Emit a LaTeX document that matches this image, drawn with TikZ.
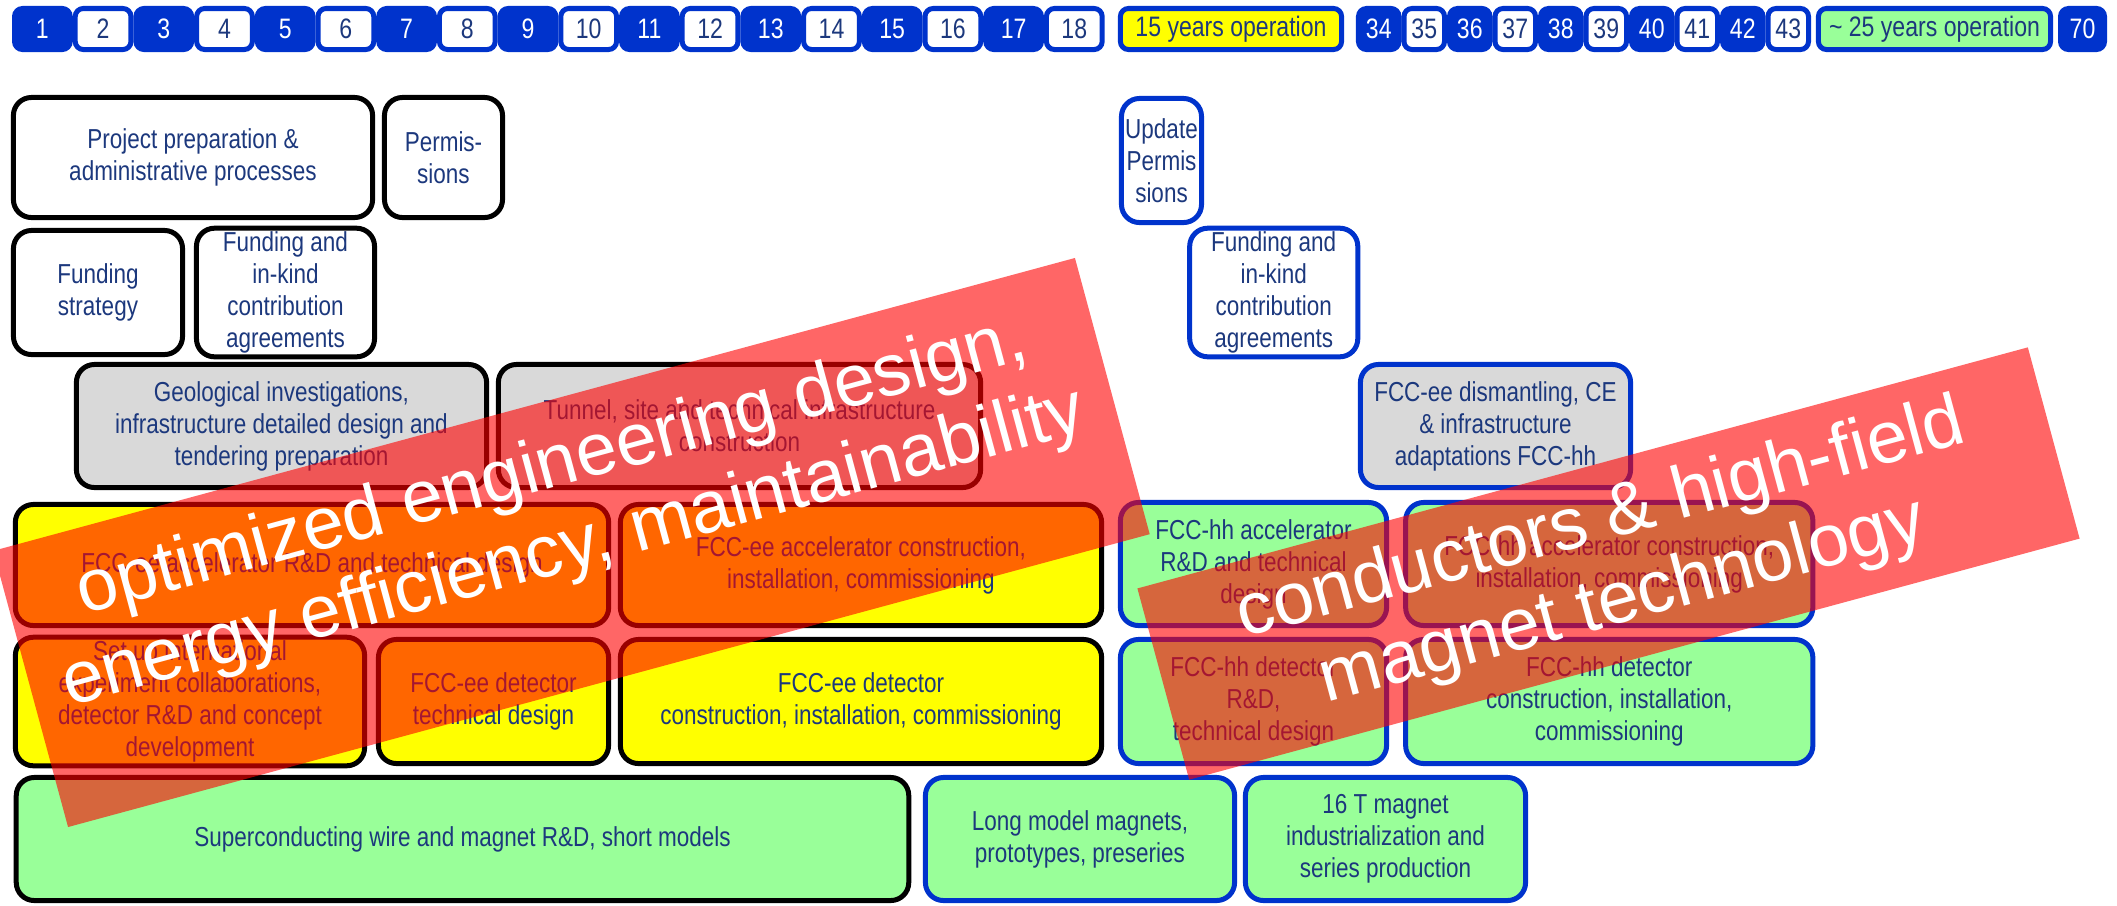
\documentclass[tikz,border=0pt]{standalone}
\usepackage{fontspec}
\setmainfont{Liberation Sans}
\newfontfamily\narrowfont{Liberation Sans}[FakeStretch=0.82]

\definecolor{fccblue}{RGB}{0,51,204}
\definecolor{fccnavy}{RGB}{28,56,125}
\definecolor{fccyellow}{RGB}{255,255,0}
\definecolor{fccgreen}{RGB}{153,255,153}
\definecolor{fccgray}{RGB}{217,217,217}

\tikzset{
  task/.style={rounded corners=0.18cm, line width=0.05cm, align=center, text=fccnavy,
    inner sep=1pt, font=\narrowfont\fontsize{7.8}{9.1}\selectfont},
  eebox/.style={task, draw=black},
  hhbox/.style={task, draw=fccblue},
  yearcell/.style={rounded corners=0.08cm, line width=0.05cm, draw=fccblue, fill=fccblue,
    text=white, minimum height=0.41cm, minimum width=0.557cm, inner sep=0pt,
    font=\narrowfont\fontsize{8}{9}\selectfont},
  yearwhite/.style={yearcell, fill=white, text=fccnavy},
  yearnarrow/.style={minimum width=0.405cm},
  band/.style={fill=red, fill opacity=0.6, rotate=15.15, inner sep=0pt},
  bandtext/.style={text=white, rotate=15.15, align=center, font=\fontsize{21}{24}\selectfont},
}

\begin{document}
\begin{tikzpicture}[x=0.01cm, y=-0.01cm]
\useasboundingbox (0,0) rectangle (2117,905);

% years
\node[yearcell] (y1) at (42.4,29) {1};
\node[yearwhite] (y2) at (103.1,29) {2};
\node[yearcell] (y3) at (163.8,29) {3};
\node[yearwhite] (y4) at (224.5,29) {4};
\node[yearcell] (y5) at (285.2,29) {5};
\node[yearwhite] (y6) at (345.9,29) {6};
\node[yearcell] (y7) at (406.6,29) {7};
\node[yearwhite] (y8) at (467.3,29) {8};
\node[yearcell] (y9) at (528.0,29) {9};
\node[yearwhite] (y10) at (588.7,29) {10};
\node[yearcell] (y11) at (649.4,29) {11};
\node[yearwhite] (y12) at (710.1,29) {12};
\node[yearcell] (y13) at (770.8,29) {13};
\node[yearwhite] (y14) at (831.5,29) {14};
\node[yearcell] (y15) at (892.2,29) {15};
\node[yearwhite] (y16) at (952.9,29) {16};
\node[yearcell] (y17) at (1013.6,29) {17};
\node[yearwhite] (y18) at (1074.3,29) {18};
\node[yearwhite, fill=fccyellow, minimum width=2.21cm] (eeop) at (1231,29) {15 years operation};
\node[yearcell, yearnarrow] (y34) at (1378.75,29) {34};
\node[yearwhite, yearnarrow] (y35) at (1424.25,29) {35};
\node[yearcell, yearnarrow] (y36) at (1469.75,29) {36};
\node[yearwhite, yearnarrow] (y37) at (1515.25,29) {37};
\node[yearcell, yearnarrow] (y38) at (1560.75,29) {38};
\node[yearwhite, yearnarrow] (y39) at (1606.25,29) {39};
\node[yearcell, yearnarrow] (y40) at (1651.75,29) {40};
\node[yearwhite, yearnarrow] (y41) at (1697.25,29) {41};
\node[yearcell, yearnarrow] (y42) at (1742.75,29) {42};
\node[yearwhite, yearnarrow] (y43) at (1788.25,29) {43};
\node[yearwhite, fill=fccgreen, minimum width=2.32cm] (hhop) at (1934.5,29) {\textasciitilde\ 25 years operation};
\node[yearcell, minimum width=0.44cm] (y70) at (2082.5,29) {70};

% preparation
\node[eebox, minimum width=3.59cm, minimum height=1.20cm] (prep) at (193,157.5) {Project preparation \&\\administrative processes};
\node[eebox, minimum width=1.18cm, minimum height=1.20cm] (perm) at (443.5,157.5) {Permis-\\sions};
\node[hhbox, minimum width=0.80cm, minimum height=1.24cm] (updperm) at (1161.5,160.5) {Update\\Permis\\sions};
\node[eebox, minimum width=1.69cm, minimum height=1.24cm] (fundstrat) at (98,292.5) {Funding\\strategy};
\node[eebox, minimum width=1.78cm, minimum height=1.24cm] (fundee) at (285.5,292.5) {Funding and\\in-kind\\contribution\\agreements};
\node[hhbox, minimum width=1.68cm, minimum height=1.24cm] (fundhh) at (1273.75,292.5) {Funding and\\in-kind\\contribution\\agreements};

% civil engineering
\node[eebox, fill=fccgray, minimum width=4.10cm, minimum height=1.23cm] (geo) at (281.5,426) {Geological investigations,\\infrastructure detailed design and\\tendering preparation};
\node[eebox, fill=fccgray, minimum width=4.82cm, minimum height=1.23cm] (tunnel) at (739.5,426) {Tunnel, site and technical infrastructure\\construction};
\node[hhbox, fill=fccgray, minimum width=2.70cm, minimum height=1.23cm] (dismantle) at (1495.5,426) {FCC-ee dismantling, CE\\\& infrastructure\\adaptations FCC-hh};

% accelerators
\node[eebox, fill=fccyellow, minimum width=5.93cm, minimum height=1.21cm] (eeaccrd) at (312,565) {FCC-ee accelerator R\&D and technical design};
\node[eebox, fill=fccyellow, minimum width=4.81cm, minimum height=1.21cm] (eeacccon) at (861,565) {FCC-ee accelerator construction,\\installation, commissioning};
\node[hhbox, fill=fccgreen, minimum width=2.66cm, minimum height=1.23cm] (hhaccrd) at (1253.5,564) {FCC-hh accelerator\\R\&D and technical\\design};
\node[hhbox, fill=fccgreen, minimum width=4.07cm, minimum height=1.23cm] (hhacccon) at (1609.25,564) {FCC-hh accelerator construction,\\installation, commissioning};

% detectors
\node[eebox, fill=fccyellow, minimum width=3.49cm, minimum height=1.24cm] (collab) at (190,701.5) {Set up international\\experiment collaborations,\\detector R\&D and concept\\development};
\node[eebox, fill=fccyellow, minimum width=2.30cm, minimum height=1.24cm] (eedettd) at (493.5,701.5) {FCC-ee detector\\technical design};
\node[eebox, fill=fccyellow, minimum width=4.81cm, minimum height=1.24cm] (eedetcon) at (861,701.5) {FCC-ee detector\\construction, installation, commissioning};
\node[hhbox, fill=fccgreen, minimum width=2.66cm, minimum height=1.24cm] (hhdetrd) at (1253.5,701.5) {FCC-hh detector\\R\&D,\\technical design};
\node[hhbox, fill=fccgreen, minimum width=4.07cm, minimum height=1.24cm] (hhdetcon) at (1609.25,701.5) {FCC-hh detector\\construction, installation,\\commissioning};

% magnets
\node[eebox, fill=fccgreen, minimum width=8.92cm, minimum height=1.23cm] (scwire) at (462.5,839) {Superconducting wire and magnet R\&D, short models};
\node[hhbox, fill=fccgreen, minimum width=3.09cm, minimum height=1.23cm] (longmodel) at (1080,839) {Long model magnets,\\prototypes, preseries};
\node[hhbox, fill=fccgreen, minimum width=2.80cm, minimum height=1.23cm] (indus) at (1385.5,839) {16 T magnet\\industrialization and\\series production};

% overlays
\node[band, minimum width=11.20cm, minimum height=2.86cm] (eeband) at (571.5,542.5) {};
\node[bandtext] (eetext) at (563,509) {optimized engineering design,\\energy efficiency, maintainability};
\node[band, minimum width=9.22cm, minimum height=1.98cm] (hhband) at (1608.5,563.5) {};
\node[bandtext] (hhtext) at (1612,562) {conductors \& high-field\\magnet technology};
\end{tikzpicture}
\end{document}
